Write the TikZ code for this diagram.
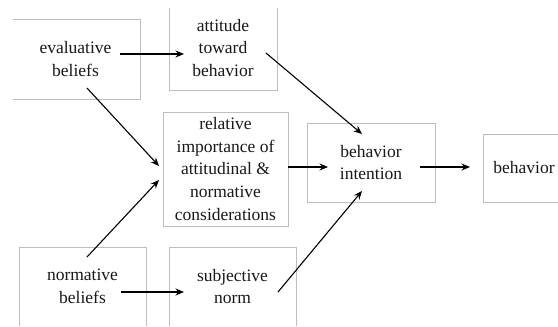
\documentclass[tikz,border=0pt]{standalone}
\usepackage{fontspec}
\setmainfont{Liberation Serif}
\usetikzlibrary{arrows.meta}
\begin{document}
\begin{tikzpicture}[x=1pt,y=-1pt,
  box/.style={draw=boxgray, line width=1pt, rectangle, inner sep=0pt,
    align=center, text=black!90, font=\fontsize{17.5}{22.7}\selectfont},
  arr/.style={line width=1.1pt, -{Stealth[length=8.5pt,width=7pt]}}]
\definecolor{boxgray}{RGB}{190,190,190}
\useasboundingbox (0,0) rectangle (558,327);
\fill[white] (0,0) rectangle (558,327);
\begin{scope}
  \clip (13,8) rectangle (558,325.5);
  \node[box, minimum width=129pt, minimum height=80pt] (evb) at (75.5,59) {evaluative\\beliefs};
  \node[box, minimum width=108pt, minimum height=84pt] (att) at (223,48) {attitude\\toward\\behavior};
  \node[box, minimum width=125pt, minimum height=114pt] (rel) at (225.5,169) {relative\\importance of\\attitudinal \&\\normative\\considerations};
  \node[box, minimum width=128pt, minimum height=79pt] (int) at (371,162.5) {behavior\\intention};
  \node[box, minimum width=82pt, minimum height=68pt] (beh) at (524,168) {behavior};
  \node[box, minimum width=127pt, minimum height=79pt] (nb) at (82.5,286.5) {normative\\beliefs};
  \node[box, minimum width=127pt, minimum height=79pt] (sn) at (232.5,286.5) {subjective\\norm};
\end{scope}
% arrow end points
\coordinate (evbA) at (120,54);   \coordinate (attA) at (184,54);
\coordinate (evbB) at (87,88);    \coordinate (relA) at (159,166);
\coordinate (nbA)  at (87,257);   \coordinate (relB) at (159,180);
\coordinate (nbB)  at (121,292);  \coordinate (snA)  at (184,292);
\coordinate (attB) at (266,53);   \coordinate (intA) at (362,134);
\coordinate (snB)  at (278,292);  \coordinate (intB) at (362,191);
\coordinate (relC) at (288,167);  \coordinate (intC) at (328,167);
\coordinate (intD) at (420,167);  \coordinate (behA) at (470,167);
\draw[arr] (evbA) -- (attA);
\draw[arr] (evbB) -- (relA);
\draw[arr] (nbA) -- (relB);
\draw[arr] (nbB) -- (snA);
\draw[arr] (attB) -- (intA);
\draw[arr] (snB) -- (intB);
\draw[arr] (relC) -- (intC);
\draw[arr] (intD) -- (behA);
\end{tikzpicture}
\end{document}
